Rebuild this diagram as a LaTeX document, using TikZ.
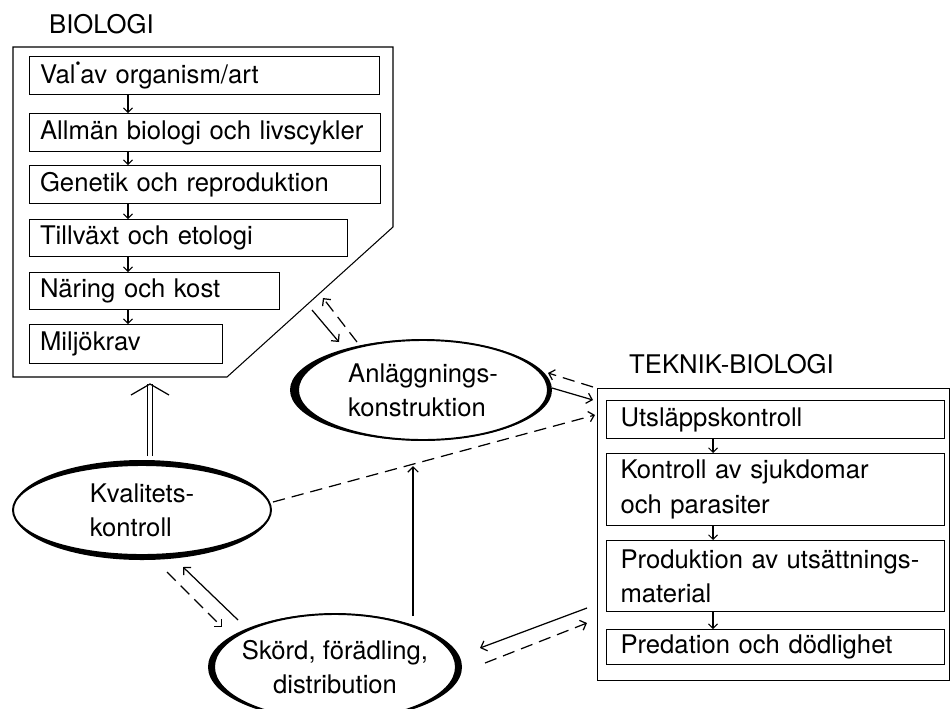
\documentclass[tikz,border=0pt]{standalone}
\usepackage{fontspec}
\setmainfont{TeX Gyre Heros}
\usetikzlibrary{arrows.meta,shapes.geometric}

\begin{document}
\begin{tikzpicture}[x=0.2mm,y=-0.2mm,
    font=\fontsize{14.6}{19.5}\selectfont,
    stage/.style={draw,line width=0.6pt,anchor=north west,align=left,inner xsep=2.1mm,inner ysep=0pt},
    oval/.style={draw,ellipse,line width=1.1pt,inner sep=0pt},
    flow/.style={line width=0.7pt,-{Straight Barb[length=3pt,width=6pt]}},
    back/.style={flow,dash pattern=on 7pt off 4pt},
    lean/.style={line width=0.6pt,-{Straight Barb[length=2.5pt,width=5pt]}}]
  \useasboundingbox (0,0) rectangle (951,708);

  \node[anchor=base west] (biotitle) at (43,33) {BIOLOGI};
  \draw[line width=0.6pt] (13,47) -- (393,47) -- (393,227) -- (227,377) -- (13,377) -- cycle;
  \node[stage,text width=65.8mm,minimum height=7.6mm] (val) at (29,56)
    {Val\raisebox{1.1ex}{\fontsize{8}{8}\selectfont\textbullet}av organism/art};
  \node[stage,text width=66mm,minimum height=7.6mm] (allm) at (29,113) {Allmän biologi och livscykler};
  \node[stage,text width=66mm,minimum height=7.6mm] (gen) at (29,165) {Genetik och reproduktion};
  \node[stage,text width=59.4mm,minimum height=7.4mm] (till) at (29,219) {Tillväxt och etologi};
  \node[stage,text width=45.8mm,minimum height=7.4mm] (nar) at (29,272) {Näring och kost};
  \node[stage,text width=34.4mm,minimum height=7.8mm] (milj) at (29,324) {Miljökrav};
  \coordinate (bx) at (128,0);
  \draw[lean] (val.south -| bx) -- (allm.north -| bx);
  \draw[lean] (allm.south -| bx) -- (gen.north -| bx);
  \draw[lean] (gen.south -| bx) -- (till.north -| bx);
  \draw[lean] (till.south -| bx) -- (nar.north -| bx);
  \draw[lean] (nar.south -| bx) -- (milj.north -| bx);

  \node[anchor=base west] (tektitle) at (623,373) {TEKNIK-BIOLOGI};
  \node[draw,line width=0.6pt,anchor=north west,minimum width=70.4mm,minimum height=58.4mm,inner sep=0pt]
    (tekframe) at (597,388) {};
  \node[stage,inner xsep=2.8mm,text width=62mm,minimum height=7.6mm] (utsl) at (606,400) {Utsläppskontroll};
  \node[stage,inner xsep=2.8mm,text width=62mm,minimum height=14.4mm] (sjuk) at (606,453) {Kontroll av sjukdomar\\och parasiter};
  \node[stage,inner xsep=2.8mm,text width=62mm,minimum height=14.2mm] (prod) at (606,540) {Produktion av utsättnings-\\material};
  \node[stage,inner xsep=2.8mm,text width=62mm,minimum height=7mm] (pred) at (606,629) {Predation och dödlighet};
  \coordinate (tx) at (713,0);
  \draw[lean] (utsl.south -| tx) -- (sjuk.north -| tx);
  \draw[lean] (sjuk.south -| tx) -- (prod.north -| tx);
  \draw[lean] (prod.south -| tx) -- (pred.north -| tx);

  \node[oval,minimum width=50mm,minimum height=20mm,align=left] (anl) at (423,390) {Anläggnings-\\konstruktion};
  \node[oval,minimum width=51.6mm,minimum height=18mm,align=left] (kval) at (142,510) {Kvalitets-\\kontroll};
  \node[oval,minimum width=48.4mm,minimum height=21.2mm,align=center,inner xsep=-3mm] (skord) at (335,667)
    {Skörd, förädling,\\distribution};
  \fill[even odd rule] ([xshift=-0.4mm]anl.center) ellipse [x radius=26.2mm,y radius=10.1mm]
    (anl.center) ellipse [x radius=25mm,y radius=10mm];
  \fill[even odd rule] (kval.center) ellipse [x radius=25.8mm,y radius=10mm]
    (kval.center) ellipse [x radius=25.8mm,y radius=9mm];
  \fill[even odd rule] (skord.center) ellipse [x radius=25.4mm,y radius=10.7mm]
    (skord.center) ellipse [x radius=24.2mm,y radius=10.6mm];

  \coordinate (bioA) at (312,310);
  \coordinate (anlA) at (339,342);
  \coordinate (anlB) at (357,342);
  \coordinate (bioB) at (323,298);
  \draw[flow] (bioA) -- (anlA);
  \draw[back] (anlB) -- (bioB);

  \coordinate (anlC) at (552,388);
  \coordinate (tekC) at (593,400);
  \coordinate (tekD) at (593,387);
  \coordinate (anlD) at (548,373);
  \draw[flow] (anlC) -- (tekC);
  \draw[back] (tekD) -- (anlD);

  \coordinate (kvalE) at (273,502);
  \coordinate (tekE) at (595,415);
  \draw[back] (kvalE) -- (tekE);

  \coordinate (skordF) at (413,616);
  \coordinate (lineF) at (413,466);
  \draw[flow] (skordF) -- (lineF);

  \coordinate (kvalG) at (167,572);
  \coordinate (skordG) at (222,627);
  \coordinate (skordH) at (238,620);
  \coordinate (kvalH) at (183,567);
  \draw[back] (kvalG) -- (skordG);
  \draw[flow] (skordH) -- (kvalH);

  \coordinate (tekI) at (587,608);
  \coordinate (skordI) at (480,648);
  \coordinate (skordJ) at (485,663);
  \coordinate (tekJ) at (587,623);
  \draw[flow] (tekI) -- (skordI);
  \draw[back] (skordJ) -- (tekJ);

  \coordinate (kvalK) at (150,456);
  \coordinate (bioK) at (150,384);
  \draw[double,line width=0.6pt,double distance=2pt] (kvalK) -- (bioK);
  \draw[line width=0.7pt] ([shift={(-19,11)}]bioK) -- (bioK) -- ([shift={(19,11)}]bioK);
\end{tikzpicture}
\end{document}
